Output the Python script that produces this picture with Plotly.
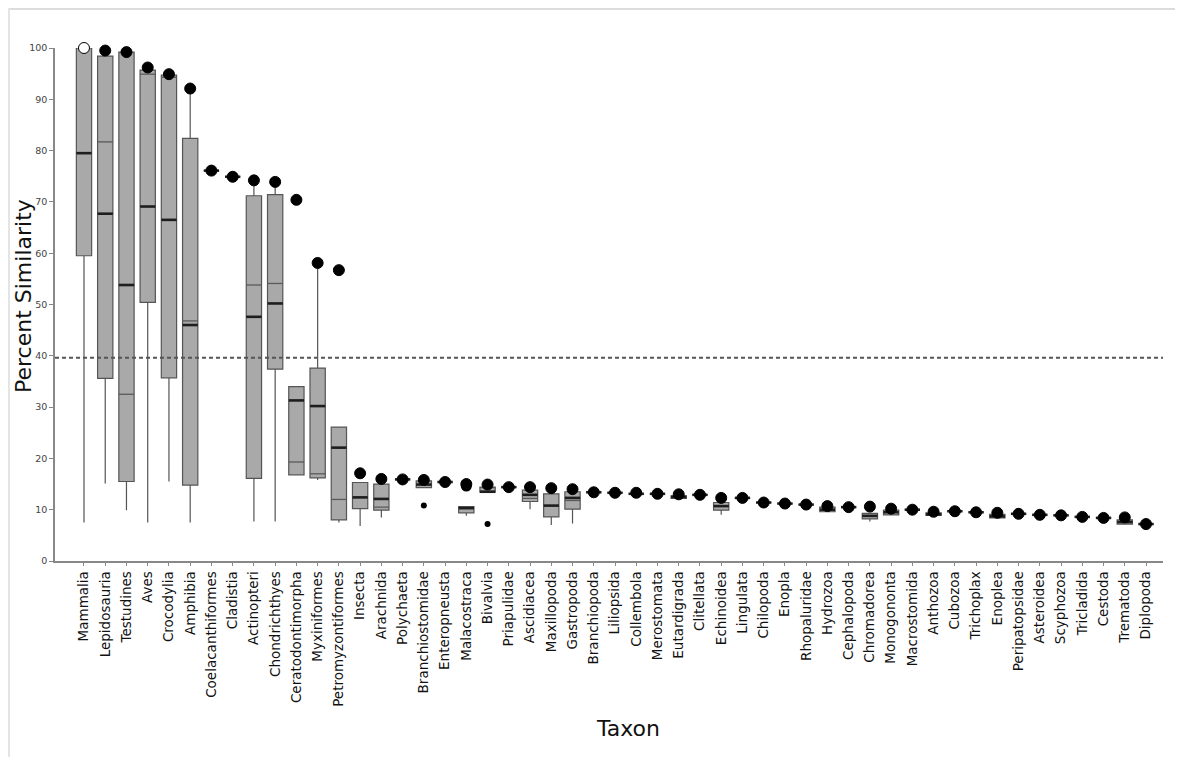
import plotly.graph_objects as go

taxa = ["Mammalia", "Lepidosauria", "Testudines", "Aves", "Crocodylia", "Amphibia",
        "Coelacanthiformes", "Cladistia", "Actinopteri", "Chondrichthyes", "Ceratodontimorpha",
        "Myxiniformes", "Petromyzontiformes", "Insecta", "Arachnida", "Polychaeta",
        "Branchiostomidae", "Enteropneusta", "Malacostraca", "Bivalvia", "Priapulidae",
        "Ascidiacea", "Maxillopoda", "Gastropoda", "Branchiopoda", "Liliopsida", "Collembola",
        "Merostomata", "Eutardigrada", "Clitellata", "Echinoidea", "Lingulata", "Chilopoda",
        "Enopla", "Rhopaluridae", "Hydrozoa", "Cephalopoda", "Chromadorea", "Monogononta",
        "Macrostomida", "Anthozoa", "Cubozoa", "Trichoplax", "Enoplea", "Peripatopsidae",
        "Asteroidea", "Scyphozoa", "Tricladida", "Cestoda", "Trematoda", "Diplopoda"]

whisker_low = [7.5, 15.1, 9.9, 7.5, 15.5, 7.5, 76.1, 74.9, 7.7, 7.7, 16.8, 15.8, 7.5, 6.8, 8.5, 15.9,
               14.3, 15.4, 8.8, 13.4, 14.4, 10.1, 7.0, 7.3, 13.4, 13.3, 13.1, 13.1, 12.2, 12.9, 9.0,
               12.3, 11.4, 11.2, 11.0, 9.6, 10.5, 7.7, 9.0, 10.0, 8.9, 9.7, 9.5, 8.4, 9.2, 9.0, 8.9,
               8.6, 8.4, 7.2, 7.2]
q1 = [59.5, 35.6, 15.5, 50.4, 35.7, 14.8, 76.1, 74.9, 16.1, 37.4, 16.8, 16.2, 8.0, 10.2, 9.9, 15.9,
      14.3, 15.4, 9.4, 13.4, 14.4, 11.6, 8.6, 10.1, 13.4, 13.3, 13.1, 13.1, 12.2, 12.9, 9.9,
      12.3, 11.4, 11.2, 11.0, 9.6, 10.5, 8.2, 9.0, 10.0, 8.9, 9.7, 9.5, 8.4, 9.2, 9.0, 8.9,
      8.6, 8.4, 7.2, 7.2]
median = [79.5, 67.7, 53.8, 69.1, 66.5, 46.0, 76.1, 74.9, 47.6, 50.2, 31.3, 30.2, 22.1, 12.4, 12.1, 15.9,
          14.9, 15.4, 10.3, 13.5, 14.4, 12.9, 10.8, 12.3, 13.4, 13.3, 13.1, 13.1, 12.5, 12.9, 10.7,
          12.3, 11.4, 11.2, 11.0, 10.0, 10.5, 8.8, 9.5, 10.0, 9.1, 9.7, 9.5, 8.7, 9.2, 9.0, 8.9,
          8.6, 8.4, 7.6, 7.2]
q3 = [100.0, 98.4, 99.2, 95.7, 94.7, 82.4, 76.1, 74.9, 71.2, 71.4, 34.0, 37.6, 26.1, 15.3, 15.0, 15.9,
      15.6, 15.4, 10.6, 14.4, 14.4, 13.8, 13.1, 13.5, 13.4, 13.3, 13.1, 13.1, 12.7, 12.9, 11.4,
      12.3, 11.4, 11.2, 11.0, 10.5, 10.5, 9.3, 9.9, 10.0, 9.4, 9.7, 9.5, 9.1, 9.2, 9.0, 8.9,
      8.6, 8.4, 8.0, 7.2]
whisker_high = [100.0, 98.4, 99.2, 95.7, 94.7, 92.1, 76.1, 74.9, 74.2, 73.9, 34.0, 58.1, 26.1, 15.3, 15.0, 15.9,
                15.6, 15.4, 10.6, 14.4, 14.4, 13.8, 13.1, 13.5, 13.4, 13.3, 13.1, 13.1, 12.7, 12.9, 11.4,
                12.3, 11.4, 11.2, 11.0, 10.5, 10.5, 9.3, 9.9, 10.0, 9.4, 9.7, 9.5, 9.1, 9.2, 9.0, 8.9,
                8.6, 8.4, 8.0, 7.2]
mean_line = [None, 81.7, 32.5, 94.9, 94.3, 46.8, None, None, 53.8, 54.1, 19.3, 17.0, 12.0, None, 10.5, None,
             None, None, None, 14.3, None, 12.2, None, 11.8, None, None, None, None, None, None, None,
             None, None, None, None, None, None, None, None, None, None, None, None, None, None, None, None,
             None, None, None, None]
top_point = [100.0, 99.5, 99.2, 96.2, 94.9, 92.1, 76.1, 74.9, 74.2, 73.9, 70.4, 58.1, 56.7, 17.1, 16.0, 15.9,
             15.8, 15.4, 15.0, 14.9, 14.4, 14.4, 14.2, 14.0, 13.4, 13.3, 13.3, 13.1, 13.0, 12.9, 12.3,
             12.3, 11.4, 11.2, 11.0, 10.7, 10.5, 10.6, 10.2, 10.0, 9.6, 9.7, 9.5, 9.4, 9.2, 9.0, 8.9,
             8.6, 8.4, 8.5, 7.2]
extra_taxa = ["Malacostraca"]
extra_values = [14.6]
outlier_taxa = ["Branchiostomidae", "Bivalvia"]
outlier_values = [10.8, 7.2]
threshold = 39.6
y_ticks = [0, 10, 20, 30, 40, 50, 60, 70, 80, 90, 100]

idx = list(range(len(taxa)))
pos = {t: i for i, t in enumerate(taxa)}
half = 0.36

fig = go.Figure()
fig.add_trace(go.Box(
    x=idx, q1=q1, median=median, q3=q3, lowerfence=whisker_low, upperfence=whisker_high,
    width=2 * half, whiskerwidth=0, fillcolor="#a9a9a9",
    line=dict(color="#555555", width=1.2), boxpoints=False, hoverinfo="skip", showlegend=False))

# thin secondary lines
mx, my = [], []
for i, v in enumerate(mean_line):
    if v is not None:
        mx += [i - half, i + half, None]
        my += [v, v, None]
fig.add_trace(go.Scatter(x=mx, y=my, mode="lines", line=dict(color="#5a5a5a", width=1.3),
                         hoverinfo="skip", showlegend=False))
# thick median lines
dx, dy = [], []
for i, v in enumerate(median):
    dx += [i - half, i + half, None]
    dy += [v, v, None]
fig.add_trace(go.Scatter(x=dx, y=dy, mode="lines", line=dict(color="#1e1e1e", width=2.6),
                         hoverinfo="skip", showlegend=False))

# points
fill = ["white" if i == 0 else "black" for i in idx]
fig.add_trace(go.Scatter(x=idx, y=top_point, mode="markers", cliponaxis=False,
                         marker=dict(size=11, color=fill, line=dict(color="black", width=1)),
                         hoverinfo="skip", showlegend=False))
fig.add_trace(go.Scatter(x=[pos[t] for t in extra_taxa], y=extra_values, mode="markers",
                         marker=dict(size=11, color="black"), hoverinfo="skip", showlegend=False))
fig.add_trace(go.Scatter(x=[pos[t] for t in outlier_taxa], y=outlier_values, mode="markers",
                         marker=dict(size=6, color="black"), hoverinfo="skip", showlegend=False))

fig.add_shape(type="line", xref="paper", x0=0, x1=1, yref="y", y0=threshold, y1=threshold,
              line=dict(color="#555555", width=2, dash="4px,3px"))

# page has an 8px body margin; figure pixel = page pixel - 8
OFF = 8
W, H = 1183 - OFF, 757 - OFF
L, R, T, B = 55 - OFF, 20, 48 - OFF, H - (561 - OFF)
pw, ph = W - L - R, H - T - B
def px_x(p):
    return (p - OFF - L) / pw
def px_y(p):
    return (H - B - (p - OFF)) / ph

# light frame (top and left edges)
fig.add_shape(type="line", xref="paper", yref="paper", x0=px_x(8), x1=px_x(1183), y0=px_y(9), y1=px_y(9),
              line=dict(color="#dcdcdc", width=2))
fig.add_shape(type="line", xref="paper", yref="paper", x0=px_x(9), x1=px_x(9), y0=px_y(8), y1=px_y(757),
              line=dict(color="#e4e4e4", width=2))

fig.add_annotation(text="Percent Similarity", xref="paper", yref="paper", x=px_x(23), y=px_y(296),
                   textangle=-90, showarrow=False, font=dict(size=22, color="#111111"),
                   xanchor="center", yanchor="middle")
fig.add_annotation(text="Taxon", xref="paper", yref="paper", x=px_x(628), y=px_y(728),
                   showarrow=False, font=dict(size=22, color="#111111"),
                   xanchor="center", yanchor="middle")

fig.update_layout(
    width=W, height=H, margin=dict(l=L, r=R, t=T, b=B),
    paper_bgcolor="white", plot_bgcolor="white",
    font=dict(family="DejaVu Sans", color="#222222"),
    xaxis=dict(range=[-1.365, 50.8], tickmode="array", tickvals=idx, ticktext=taxa,
               tickangle=-90, tickfont=dict(size=13.5, color="#111111"), showgrid=False, zeroline=False,
               showline=True, linecolor="#888888", linewidth=1.5, ticks="outside", ticklen=3,
               tickcolor="#888888"),
    yaxis=dict(range=[0, 100], tickmode="array", tickvals=y_ticks, tickfont=dict(size=9.5, color="#444444"),
               showgrid=False, zeroline=False, showline=True, linecolor="#888888", linewidth=1.5,
               ticks="outside", ticklen=4, tickcolor="#888888"),
)

fig.write_html("out.html")
